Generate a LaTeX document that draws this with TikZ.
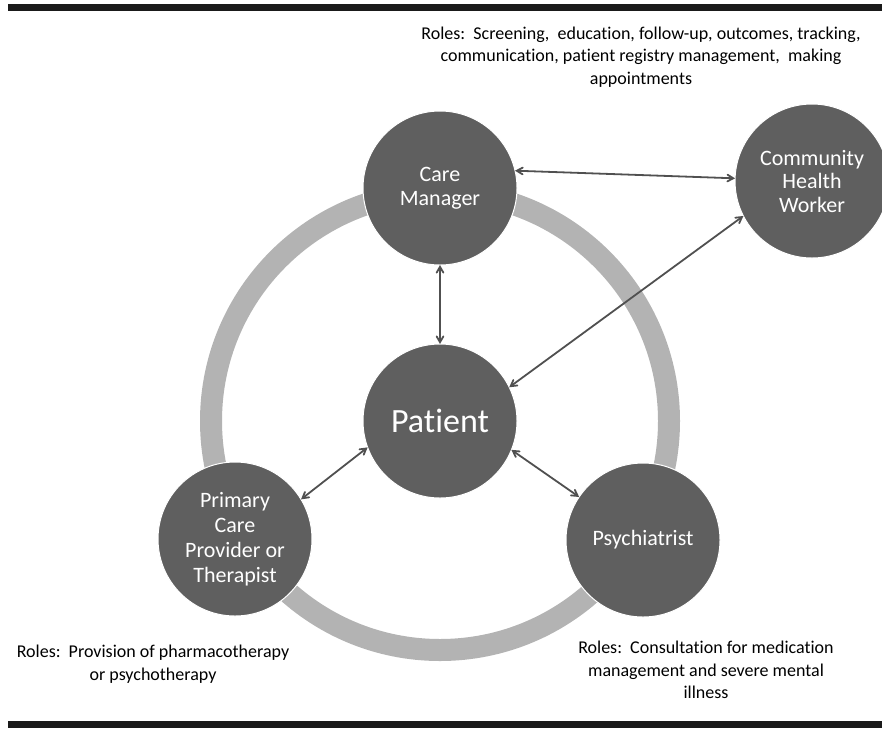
\documentclass[tikz,border=0pt]{standalone}
\usepackage{fontspec}
\setmainfont[Ligatures=NoCommon]{Carlito}
\usepackage{tkz-graph}
\usetikzlibrary{arrows}
\definecolor{discgray}{HTML}{5F5F5F}
\definecolor{ringgray}{HTML}{B3B3B3}
\definecolor{linkgray}{HTML}{505050}
\definecolor{rulegray}{HTML}{1A1A1A}
\tikzset{discfont/.style={font=\fontsize{22}{23.5}\selectfont},
         patientfont/.style={font=\fontsize{34}{36}\selectfont},
         pcpfont/.style={font=\fontsize{22}{25}\selectfont}}

\begin{document}
\begin{tikzpicture}[x=1pt,y=-1pt]
  \useasboundingbox (0,0) rectangle (882,729);
  \SetVertexNormal[Shape      = circle,
                   FillColor  = discgray,
                   LineColor  = white,
                   LineWidth  = 1pt]
  \tikzset{VertexStyle/.append style={minimum size=154pt, inner sep=0pt,
           text=white, align=center}}
 \tikzstyle{EdgeStyle}=[<->, >=angle 60, line width=1.8pt, draw=linkgray]
 \tikzstyle{RolesStyle}=[align=center, font=\fontsize{18}{22.5}\selectfont]
 % rules and ring
 \fill[rulegray] (8,4) rectangle (882,11);
 \fill[rulegray] (8,721) rectangle (882,728);
 \draw[ringgray, line width=22pt] (440,421) circle [radius=229pt];
 \Vertex[x=440, y=421, L=Patient, style=patientfont]{P}
 \Vertex[x=440, y=188, L={Care\\Manager}, style=discfont]{CM}
 \Vertex[x=812, y=181, L={Community\\Health\\Worker}, style=discfont]{CHW}
 \Vertex[x=235, y=539, L={Primary\\Care\\Provider or\\Therapist}, style=pcpfont]{PCP}
 \Vertex[x=643, y=540, L=Psychiatrist, style=discfont]{PSY}
 \draw[EdgeStyle] (CM.13) -- (CHW.178);
 \draw[EdgeStyle] (CM.south) -- (P.north);
 \draw[EdgeStyle] (CHW.207) -- (P.26);
 \draw[EdgeStyle] (P.200) -- (PCP.31);
 \draw[EdgeStyle] (P.-22) -- (PSY.146);
 % roles
 \node[RolesStyle] (CMroles) at (641,57)
   {Roles:\ \ Screening,\ \ education, follow-up, outcomes, tracking,\\
    communication, patient registry management,\ \ making\\ appointments};
 \node[RolesStyle] (PCProles) at (153,664)
   {Roles:\ \ Provision of pharmacotherapy\\ or psychotherapy};
 \node[RolesStyle] (PSYroles) at (706,670)
   {Roles:\ \ Consultation for medication\\ management and severe mental\\ illness};
\end{tikzpicture}
\end{document}
